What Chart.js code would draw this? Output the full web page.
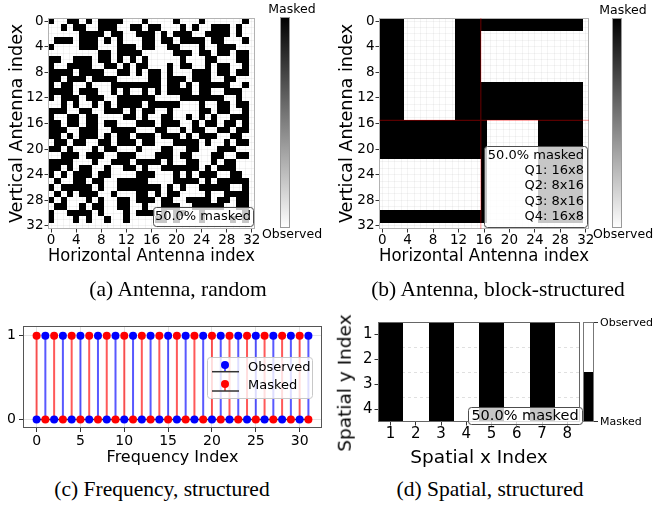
<!DOCTYPE html>
<html>
<head>
<meta charset="utf-8">
<script src="https://cdn.jsdelivr.net/npm/chart.js@4.4.1/dist/chart.umd.min.js"></script>
<style>
  body { margin: 0; background: #fff; }
  #fig { position: relative; width: 654px; height: 508px; overflow: hidden; font-family: "DejaVu Sans", sans-serif; }
  #fig canvas { position: absolute; }
  .caption { position: absolute; font-family: "Liberation Serif", serif; font-size: 21.5px; line-height: 1; white-space: nowrap; transform: translateX(-50%); }
  .ylab { position: absolute; font-size: 18.5px; line-height: 1; white-space: nowrap; transform: translate(-50%, -50%) rotate(-90deg); }
</style>
</head>
<body>
<div id="fig">
  <canvas id="antRandom" width="327" height="272" style="left:0;top:0"></canvas>
  <canvas id="antBlock" width="327" height="272" style="left:327px;top:0"></canvas>
  <canvas id="freq" width="327" height="175" style="left:0;top:300px"></canvas>
  <canvas id="spatial" width="327" height="175" style="left:327px;top:300px"></canvas>
  <div class="ylab" style="left:345px;top:383px">Spatial y Index</div>
  <div class="caption" style="left:178px;top:279px">(a) Antenna, random</div>
  <div class="caption" style="left:498px;top:279px">(b) Antenna, block-structured</div>
  <div class="caption" style="left:162px;top:479px">(c) Frequency, structured</div>
  <div class="caption" style="left:490px;top:479px">(d) Spatial, structured</div>
</div>
<script>
// ---- data ----
const antennaTicks = [0, 4, 8, 12, 16, 20, 24, 28, 32];

// (a) random mask, 1 = masked, one string per vertical index
const randomMask = [
  '1001101011110001 0000100010000001',
  '0010110011100110 1100010100111010',
  '0000011110110011 1010111001111010',
  '0111011101010001 1011011110110001',
  '1000011100011101 1001100010011100',
  '0000000011011110 0000111011011011',
  '1100111011010101 0000010001100011',
  '1001111001101011 0001011001011001',
  '1111011110011010 1101000111011011',
  '1101110111100000 1101110111001100',
  '1011001000111111 1101101011111001',
  '1111011100101001 0101111011001110',
  '1011101110011111 1000011111110010',
  '0010100101011110 1111100010011011',
  '1110011001110101 1001000011011001',
  '1001101100001101 0011001010100111',
  '1101101101100011 1011100101101101',
  '1110011100111100 0110010110011011',
  '1101011101011011 1011101011100110',
  '0110110011011101 1000111101001011',
  '1101000101100010 0011001100011100',
  '0011101110011100 0111011000110011',
  '1111000100111011 1101001100101100',
  '1101011001001101 0011111101011100',
  '1010111011000011 1000101011100110',
  '0100110110011111 0000111101011111',
  '1011111010011111 1101010011111001',
  '0101011100100011 0101100001001111',
  '1010001010011011 1011001111011011',
  '0110010110011001 0011100111110011',
  '1001111010001011 1010110010000001',
  '1000101001001000 0110100010000101'
];
const randomNote = ['50.0% masked'];

// (b) observed blocks [rowFrom, rowTo, colFrom, colTo], everything else masked
const blockObserved = [
  [0, 15, 4, 11],
  [2, 9, 16, 31],
  [22, 29, 0, 15],
  [16, 31, 17, 24]
];
const blockSize = 32;
const blockSplit = [15.5, 15.5];
const blockNote = ['50.0% masked', 'Q1: 16x8', 'Q2: 8x16', 'Q3: 8x16', 'Q4: 16x8'];

// (c) frequency pattern
const freqIndex = [0, 1, 2, 3, 4, 5, 6, 7, 8, 9, 10, 11, 12, 13, 14, 15,
                   16, 17, 18, 19, 20, 21, 22, 23, 24, 25, 26, 27, 28, 29, 30, 31];
const freqObserved = [0, 1, 0, 1, 0, 1, 0, 1, 0, 1, 0, 1, 0, 1, 0, 1,
                      0, 1, 0, 1, 0, 1, 0, 1, 0, 1, 0, 1, 0, 1, 0, 1];
const freqMasked = [1, 0, 1, 0, 1, 0, 1, 0, 1, 0, 1, 0, 1, 0, 1, 0,
                    1, 0, 1, 0, 1, 0, 1, 0, 1, 0, 1, 0, 1, 0, 1, 0];
const freqTicks = [0, 5, 10, 15, 20, 25, 30];
const freqYTicks = [0, 1];

// (d) spatial pattern, rows = y index 1..4, cols = x index 1..8
const spatialX = [1, 2, 3, 4, 5, 6, 7, 8];
const spatialY = [1, 2, 3, 4];
const spatialMask = [
  [1, 0, 1, 0, 1, 0, 1, 0],
  [1, 0, 1, 0, 1, 0, 1, 0],
  [1, 0, 1, 0, 1, 0, 1, 0],
  [1, 0, 1, 0, 1, 0, 1, 0]
];
const spatialNote = ['50.0% masked'];

// ---- build cell lists ----
const randomCells = [];
randomMask.forEach((row, r) => {
  row.replace(/ /g, '').split('').forEach((v, c) => { if (v === '1') randomCells.push({x: c, y: r}); });
});

const blockCells = [];
for (let r = 0; r < blockSize; r++) {
  for (let c = 0; c < blockSize; c++) {
    const open = blockObserved.some(b => r >= b[0] && r <= b[1] && c >= b[2] && c <= b[3]);
    if (!open) blockCells.push({x: c, y: r});
  }
}

const spatialCells = [];
spatialMask.forEach((row, r) => row.forEach((v, c) => {
  if (v) spatialCells.push({x: spatialX[c], y: spatialY[r]});
}));

Chart.defaults.font.family = '"DejaVu Sans", sans-serif';
Chart.defaults.color = '#000';

// ---- helpers ----
function roundBox(ctx, x0, y0, x1, y1, r, fill, stroke) {
  ctx.beginPath();
  ctx.moveTo(x0 + r, y0);
  ctx.lineTo(x1 - r, y0); ctx.quadraticCurveTo(x1, y0, x1, y0 + r);
  ctx.lineTo(x1, y1 - r); ctx.quadraticCurveTo(x1, y1, x1 - r, y1);
  ctx.lineTo(x0 + r, y1); ctx.quadraticCurveTo(x0, y1, x0, y1 - r);
  ctx.lineTo(x0, y0 + r); ctx.quadraticCurveTo(x0, y0, x0 + r, y0);
  ctx.closePath();
  ctx.fillStyle = fill; ctx.fill();
  ctx.strokeStyle = stroke; ctx.lineWidth = 1; ctx.stroke();
}

function noteBox(ctx, box, lines, size, align, tx, ty, step) {
  roundBox(ctx, box[0] + 0.5, box[1] + 0.5, box[2] + 0.5, box[3] + 0.5, 3, 'rgba(255,255,255,0.78)', '#4d4d4d');
  ctx.fillStyle = '#000';
  ctx.font = size + 'px "DejaVu Sans"';
  ctx.textAlign = align;
  ctx.textBaseline = 'middle';
  lines.forEach((t, i) => ctx.fillText(t, tx, ty + i * step));
}

const cellLayer = {
  id: 'cellLayer',
  beforeDatasetsDraw(chart) {
    const {ctx, scales: {x, y}} = chart;
    chart.data.datasets.forEach(ds => {
      if (!ds.cell) return;
      ctx.save();
      ctx.fillStyle = ds.cellColor;
      ds.data.forEach(p => {
        const x0 = Math.round(x.getPixelForValue(p.x - 0.5)), x1 = Math.round(x.getPixelForValue(p.x + 0.5));
        const y0 = Math.round(y.getPixelForValue(p.y - 0.5)), y1 = Math.round(y.getPixelForValue(p.y + 0.5));
        ctx.fillRect(Math.min(x0, x1), Math.min(y0, y1), Math.abs(x1 - x0), Math.abs(y1 - y0));
      });
      ctx.restore();
    });
  }
};

const frame = {
  id: 'frame',
  afterDatasetsDraw(chart, args, opts) {
    const {ctx, chartArea: a} = chart;
    ctx.save();
    ctx.strokeStyle = opts.color || '#888';
    ctx.lineWidth = 1;
    ctx.strokeRect(Math.round(a.left) + 0.5, Math.round(a.top) + 0.5,
                   Math.round(a.right - a.left) - 1, Math.round(a.bottom - a.top) - 1);
    ctx.restore();
  }
};

const gridSteps = Array.from({length: 33}, (_, i) => i);

function antennaAxis(axis, title, size, titlePad) {
  return {
    type: 'linear', min: -0.5, max: 32.5, reverse: axis === 'y',
    afterBuildTicks: s => { s.ticks = gridSteps.map(v => ({value: v})); },
    afterFit: s => { if (axis === 'y') s.width = size; else s.height = size; },
    ticks: {
      autoSkip: false, maxRotation: 0, padding: axis === 'y' ? 1 : 0,
      font: {size: 13.5}, color: '#000',
      callback: v => antennaTicks.includes(v) ? String(v) : ''
    },
    grid: {
      color: 'rgba(0,0,0,0.045)', tickLength: 3.5,
      tickColor: c => (c.tick && antennaTicks.includes(c.tick.value)) ? '#333' : 'rgba(0,0,0,0)'
    },
    border: {display: false},
    title: {
      display: true, text: title, color: '#000',
      font: {size: 17.6, lineHeight: 1.2},
      padding: axis === 'y' ? {top: titlePad, bottom: 0} : {top: 0, bottom: titlePad}
    }
  };
}

function gradientBar(ctx, x0, y0, x1, y1, labelX) {
  const g = ctx.createLinearGradient(0, y0, 0, y1);
  g.addColorStop(0, '#000');
  g.addColorStop(1, '#fff');
  ctx.fillStyle = g;
  ctx.fillRect(x0, y0, x1 - x0, y1 - y0);
  ctx.strokeStyle = '#999';
  ctx.lineWidth = 1;
  ctx.strokeRect(x0 + 0.5, y0 + 0.5, x1 - x0 - 1, y1 - y0 - 1);
  ctx.fillStyle = '#000';
  ctx.font = '12.5px "DejaVu Sans"';
  ctx.textAlign = 'center';
  ctx.textBaseline = 'middle';
  ctx.fillText('Masked', labelX, y0 - 7);
  ctx.fillText('Observed', labelX, y1 + 7);
}

const baseOpts = {responsive: false, animation: false, events: []};

// ---- (a) random ----
new Chart(document.getElementById('antRandom'), {
  type: 'scatter',
  data: {datasets: [{data: randomCells, pointRadius: 0, cell: true, cellColor: '#000'}]},
  options: Object.assign({}, baseOpts, {
    layout: {padding: {top: 18, right: 72, left: 0, bottom: 0}},
    scales: {
      x: antennaAxis('x', 'Horizontal Antenna index', 43, 5.4),
      y: antennaAxis('y', 'Vertical Antenna index', 48, 6.4)
    },
    plugins: {legend: {display: false}, tooltip: {enabled: false}, frame: {color: '#b3b3b3'}}
  }),
  plugins: [cellLayer, frame, {
    id: 'extrasA',
    afterDraw(chart) {
      const ctx = chart.ctx;
      ctx.save();
      noteBox(ctx, [153, 207, 253, 226], randomNote, 13, 'center', 203, 217, 0);
      gradientBar(ctx, 280, 17, 290, 228, 292);
      ctx.restore();
    }
  }]
});

// ---- (b) block-structured ----
new Chart(document.getElementById('antBlock'), {
  type: 'scatter',
  data: {datasets: [{data: blockCells, pointRadius: 0, cell: true, cellColor: '#000'}]},
  options: Object.assign({}, baseOpts, {
    layout: {padding: {top: 18, right: 65, left: 0, bottom: 0}},
    scales: {
      x: antennaAxis('x', 'Horizontal Antenna index', 43, 5.4),
      y: antennaAxis('y', 'Vertical Antenna index', 52, 9.4)
    },
    plugins: {legend: {display: false}, tooltip: {enabled: false}, frame: {color: '#b3b3b3'}}
  }),
  plugins: [cellLayer, frame, {
    id: 'extrasB',
    afterDatasetsDraw(chart) {
      const {ctx, chartArea: a, scales: {x, y}} = chart;
      ctx.save();
      ctx.strokeStyle = 'rgba(255,0,0,0.35)';
      ctx.lineWidth = 1.2;
      const sx = x.getPixelForValue(blockSplit[0]), sy = y.getPixelForValue(blockSplit[1]);
      ctx.beginPath();
      ctx.moveTo(sx, a.top); ctx.lineTo(sx, a.bottom);
      ctx.moveTo(a.left, sy); ctx.lineTo(a.right, sy);
      ctx.stroke();
      ctx.restore();
    },
    afterDraw(chart) {
      const ctx = chart.ctx;
      ctx.save();
      noteBox(ctx, [157, 146, 260, 227], blockNote, 13, 'right', 257, 155.7, 15.2);
      gradientBar(ctx, 285, 18, 295, 228, 296);
      ctx.restore();
    }
  }]
});

// ---- (c) frequency ----
function stemPoints(vals) {
  const pts = [];
  freqIndex.forEach((f, i) => { pts.push({x: f, y: 0}, {x: f, y: vals[i]}, {x: f, y: null}); });
  return pts;
}
const obsBlue = '#0000ff', maskRed = '#ff0000';

new Chart(document.getElementById('freq'), {
  type: 'scatter',
  data: {
    datasets: [
      {type: 'scatter', label: 'Masked', data: freqIndex.map((f, i) => ({x: f, y: freqMasked[i]})),
       pointRadius: 4, backgroundColor: maskRed, borderWidth: 0, order: 0},
      {type: 'scatter', label: 'Observed', data: freqIndex.map((f, i) => ({x: f, y: freqObserved[i]})),
       pointRadius: 4, backgroundColor: obsBlue, borderWidth: 0, order: 1},
      {type: 'line', data: [{x: freqIndex[0], y: 0}, {x: freqIndex[freqIndex.length - 1], y: 0}],
       borderColor: '#333', borderWidth: 1.5, pointRadius: 0, order: 2},
      {type: 'line', data: stemPoints(freqMasked), borderColor: 'rgba(255,0,0,0.65)', borderWidth: 2,
       pointRadius: 0, spanGaps: false, order: 3},
      {type: 'line', data: stemPoints(freqObserved), borderColor: 'rgba(0,0,255,0.65)', borderWidth: 2,
       pointRadius: 0, spanGaps: false, order: 4}
    ]
  },
  options: Object.assign({}, baseOpts, {
    layout: {padding: {top: 26, right: 5, left: 0, bottom: 0}},
    scales: {
      x: {
        type: 'linear', min: -1.55, max: 32.55,
        afterBuildTicks: s => { s.ticks = freqTicks.map(v => ({value: v})); },
        afterFit: s => { s.height = 47; },
        ticks: {autoSkip: false, maxRotation: 0, padding: 1, font: {size: 14}, color: '#000'},
        grid: {color: '#e3e3e3', tickLength: 4, tickColor: '#333'},
        border: {display: false},
        title: {display: true, text: 'Frequency Index', color: '#000', font: {size: 16, lineHeight: 1.2},
                padding: {top: 0, bottom: 7.4}}
      },
      y: {
        type: 'linear', min: -0.1, max: 1.115,
        afterBuildTicks: s => { s.ticks = freqYTicks.map(v => ({value: v})); },
        afterFit: s => { s.width = 23; },
        ticks: {padding: 3, font: {size: 14}, color: '#000'},
        grid: {color: '#e3e3e3', tickLength: 4, tickColor: '#333'},
        border: {display: false}
      }
    },
    plugins: {legend: {display: false}, tooltip: {enabled: false}, frame: {color: '#555'}}
  }),
  plugins: [frame, {
    id: 'legendC',
    afterDraw(chart) {
      const ctx = chart.ctx;
      ctx.save();
      roundBox(ctx, 207.5, 57.5, 312.5, 98.5, 3, 'rgba(255,255,255,0.8)', '#c8c8c8');
      const items = [['Observed', obsBlue, 'rgba(0,0,255,0.65)', 65, 71.7, 67.3],
                     ['Masked', maskRed, 'rgba(255,0,0,0.65)', 84, 91, 86]];
      items.forEach(([name, col, stem, my, by, ty]) => {
        ctx.strokeStyle = stem; ctx.lineWidth = 2;
        ctx.beginPath(); ctx.moveTo(225, my); ctx.lineTo(225, by); ctx.stroke();
        ctx.strokeStyle = '#333'; ctx.lineWidth = 1.5;
        ctx.beginPath(); ctx.moveTo(212, by); ctx.lineTo(239, by); ctx.stroke();
        ctx.fillStyle = col;
        ctx.beginPath(); ctx.arc(225, my, 4, 0, Math.PI * 2); ctx.fill();
        ctx.fillStyle = '#000';
        ctx.font = '13px "DejaVu Sans"';
        ctx.textAlign = 'left'; ctx.textBaseline = 'middle';
        ctx.fillText(name, 248, ty);
      });
      ctx.restore();
    }
  }]
});

// ---- (d) spatial ----
const yGrid = [1, 1.5, 2, 2.5, 3, 3.5, 4];
new Chart(document.getElementById('spatial'), {
  type: 'scatter',
  data: {datasets: [{data: spatialCells, pointRadius: 0, cell: true, cellColor: '#000'}]},
  options: Object.assign({}, baseOpts, {
    layout: {padding: {top: 22, right: 74, left: 0, bottom: 0}},
    scales: {
      x: {
        type: 'linear', min: 0.5, max: 8.5,
        afterBuildTicks: s => { s.ticks = spatialX.map(v => ({value: v})); },
        afterFit: s => { s.height = 53; },
        ticks: {autoSkip: false, maxRotation: 0, padding: 0, font: {size: 15}, color: '#000'},
        grid: {drawOnChartArea: false, tickLength: 3.5, tickColor: '#333'},
        border: {display: false},
        title: {display: true, text: 'Spatial x Index', color: '#000', font: {size: 18.5, lineHeight: 1.2},
                padding: {top: 0, bottom: 5.9}}
      },
      y: {
        type: 'linear', min: 0.5, max: 4.5, reverse: true,
        afterBuildTicks: s => { s.ticks = yGrid.map(v => ({value: v})); },
        afterFit: s => { s.width = 51; },
        ticks: {autoSkip: false, padding: 2, font: {size: 15}, color: '#000',
                callback: v => spatialY.includes(v) ? String(v) : ''},
        grid: {
          color: c => (c.tick && spatialY.includes(c.tick.value)) ? 'rgba(0,0,0,0)' : 'rgba(0,0,0,0.12)',
          tickLength: 3.5,
          tickColor: c => (c.tick && spatialY.includes(c.tick.value)) ? '#333' : 'rgba(0,0,0,0)'
        },
        border: {display: false, dash: [3, 3]}
      }
    },
    plugins: {legend: {display: false}, tooltip: {enabled: false}, frame: {color: '#666'}}
  }),
  plugins: [cellLayer, frame, {
    id: 'extrasD',
    afterDraw(chart) {
      const {ctx, chartArea: a} = chart;
      ctx.save();
      noteBox(ctx, [141, 107, 255, 124], spatialNote, 14.5, 'center', 198, 116, 0);
      const x0 = 256, x1 = 267, mid = (a.top + a.bottom) / 2;
      ctx.fillStyle = '#fff'; ctx.fillRect(x0, a.top, x1 - x0, mid - a.top);
      ctx.fillStyle = '#000'; ctx.fillRect(x0, mid, x1 - x0, a.bottom - mid);
      ctx.strokeStyle = '#777'; ctx.lineWidth = 1;
      ctx.strokeRect(x0 + 0.5, a.top + 0.5, x1 - x0 - 1, a.bottom - a.top - 1);
      ctx.beginPath();
      ctx.moveTo(x1, a.top + 0.5); ctx.lineTo(x1 + 4, a.top + 0.5);
      ctx.moveTo(x1, a.bottom - 0.5); ctx.lineTo(x1 + 4, a.bottom - 0.5);
      ctx.strokeStyle = '#333'; ctx.stroke();
      ctx.fillStyle = '#000';
      ctx.font = '11px "DejaVu Sans"';
      ctx.textAlign = 'left'; ctx.textBaseline = 'middle';
      ctx.fillText('Observed', 273, a.top + 1);
      ctx.fillText('Masked', 273, a.bottom);
      ctx.restore();
    }
  }]
});
</script>
</body>
</html>
